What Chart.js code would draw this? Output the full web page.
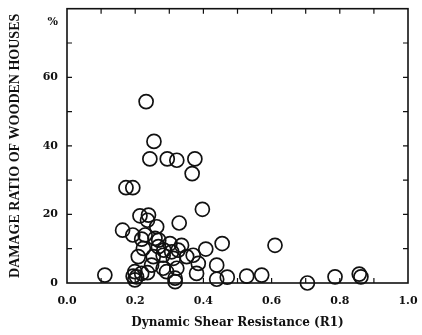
<!DOCTYPE html>
<html lang="en">
<head>
    <meta charset="UTF-8">
    <title>Damage Ratio vs Dynamic Shear Resistance</title>
    <style>
        body {
            margin: 0;
            background-color: #ffffff;
        }
        .container {
            width: 422px;
            height: 335px;
        }
    </style>
</head>
<body>
    <div class="container">
        <canvas id="scatterChart" width="422" height="335"></canvas>
    </div>
    <script src="https://cdn.jsdelivr.net/npm/chart.js"></script>
    <script>
        // dynamic shear resistance (R1)
        const resistance = [
            0.232, 0.255, 0.243, 0.294, 0.322, 0.375, 0.367, 0.173, 0.193, 0.397,
            0.214, 0.239, 0.236, 0.329, 0.263, 0.163, 0.193, 0.229, 0.269, 0.219,
            0.224, 0.268, 0.302, 0.284, 0.336, 0.326, 0.407, 0.455, 0.610, 0.370,
            0.351, 0.209, 0.253, 0.312, 0.282, 0.385, 0.439, 0.248, 0.282, 0.292,
            0.322, 0.380, 0.111, 0.199, 0.219, 0.204, 0.199, 0.317, 0.317, 0.439,
            0.470, 0.527, 0.571, 0.705, 0.786, 0.857, 0.862, 0.307, 0.258, 0.194,
            0.236
        ];
        // damage ratio (%)
        const damageRatio = [
            52.9, 41.3, 36.2, 36.2, 35.8, 36.2, 31.9, 27.8, 27.8, 21.5,
            19.6, 19.8, 18.3, 17.5, 16.4, 15.4, 14.0, 14.0, 12.5, 12.8,
            10.1, 10.6, 11.5, 9.6, 11.0, 9.6, 9.9, 11.5, 11.0, 8.1,
            7.7, 7.7, 7.7, 7.2, 8.1, 5.7, 5.2, 5.2, 4.3, 3.3,
            4.3, 2.8, 2.3, 3.3, 2.8, 1.8, 0.9, 1.4, 0.4, 1.1,
            1.7, 2.0, 2.3, 0.0, 1.8, 2.6, 1.8, 9.1, 13.0, 2.0,
            3.0
        ];

        const xLabelValues = [0, 0.2, 0.4, 0.6, 0.8, 1.0];
        const xLabelText = ['0.0', '0.2', '0.4', '0.6', '0.8', '1.0'];
        const xTickMarks = [0.1, 0.2, 0.3, 0.4, 0.5, 0.6, 0.7, 0.8, 0.9];
        const yLabelValues = [0, 20, 40, 60, 76];
        const yLabelText = ['0', '20', '40', '60', '%'];
        const yTickMarks = [10, 20, 30, 40, 50, 60, 70];

        const points = resistance.map((x, i) => ({ x: x, y: damageRatio[i] }));

        // frame and inward tick marks on all four sides
        const framePlugin = {
            id: 'frame',
            afterDraw(chart) {
                const ctx = chart.ctx;
                const area = chart.chartArea;
                const xs = chart.scales.x;
                const ys = chart.scales.y;
                const len = 5;
                ctx.save();
                ctx.strokeStyle = '#111';
                ctx.lineWidth = 1.6;
                ctx.strokeRect(area.left, area.top, area.right - area.left, area.bottom - area.top);
                ctx.lineWidth = 1.2;
                ctx.beginPath();
                xTickMarks.forEach(v => {
                    const px = xs.getPixelForValue(v);
                    ctx.moveTo(px, area.top);
                    ctx.lineTo(px, area.top + len);
                    ctx.moveTo(px, area.bottom);
                    ctx.lineTo(px, area.bottom - len);
                });
                yTickMarks.forEach(v => {
                    const py = ys.getPixelForValue(v);
                    ctx.moveTo(area.left, py);
                    ctx.lineTo(area.left + len, py);
                    ctx.moveTo(area.right, py);
                    ctx.lineTo(area.right - len, py);
                });
                ctx.stroke();
                ctx.restore();
            }
        };

        const ctx = document.getElementById('scatterChart').getContext('2d');
        new Chart(ctx, {
            type: 'scatter',
            data: {
                datasets: [{
                    data: points,
                    pointStyle: 'circle',
                    pointRadius: 7,
                    pointHoverRadius: 7,
                    borderColor: '#111',
                    backgroundColor: 'rgba(0,0,0,0)',
                    borderWidth: 1.7,
                    clip: false
                }]
            },
            options: {
                responsive: false,
                animation: false,
                layout: {
                    padding: { left: 0, right: 14, top: 8, bottom: 0 }
                },
                plugins: {
                    legend: { display: false },
                    tooltip: { enabled: false }
                },
                scales: {
                    x: {
                        type: 'linear',
                        min: 0,
                        max: 1,
                        grid: { display: false, drawTicks: false },
                        border: { display: false },
                        afterBuildTicks: scale => {
                            scale.ticks = xLabelValues.map(v => ({ value: v }));
                        },
                        afterFit: scale => {
                            scale.height = 52;
                            scale.paddingLeft = 0;
                            scale.paddingRight = 0;
                        },
                        ticks: {
                            padding: 12,
                            color: '#111',
                            maxRotation: 0,
                            font: { family: 'DejaVu Serif', size: 11, weight: 'bold' },
                            callback: (value, index) => xLabelText[index]
                        },
                        title: {
                            display: true,
                            text: 'Dynamic Shear Resistance (R1)',
                            color: '#111',
                            padding: { top: 0, bottom: 5 },
                            font: { family: 'DejaVu Serif', size: 12, weight: 'bold' }
                        }
                    },
                    y: {
                        type: 'linear',
                        min: 0,
                        max: 80,
                        grid: { display: false, drawTicks: false },
                        border: { display: false },
                        afterBuildTicks: scale => {
                            scale.ticks = yLabelValues.map(v => ({ value: v }));
                        },
                        afterFit: scale => {
                            scale.width = 67;
                            scale.paddingTop = 0;
                            scale.paddingBottom = 0;
                        },
                        ticks: {
                            padding: 9,
                            color: '#111',
                            font: { family: 'DejaVu Serif', size: 11, weight: 'bold' },
                            callback: (value, index) => yLabelText[index]
                        },
                        title: {
                            display: true,
                            text: 'DAMAGE RATIO OF WOODEN HOUSES',
                            color: '#111',
                            padding: { top: 7, bottom: 0 },
                            font: { family: 'Liberation Serif', size: 14, weight: 'bold' }
                        }
                    }
                }
            },
            plugins: [framePlugin]
        });
    </script>
</body>
</html>
